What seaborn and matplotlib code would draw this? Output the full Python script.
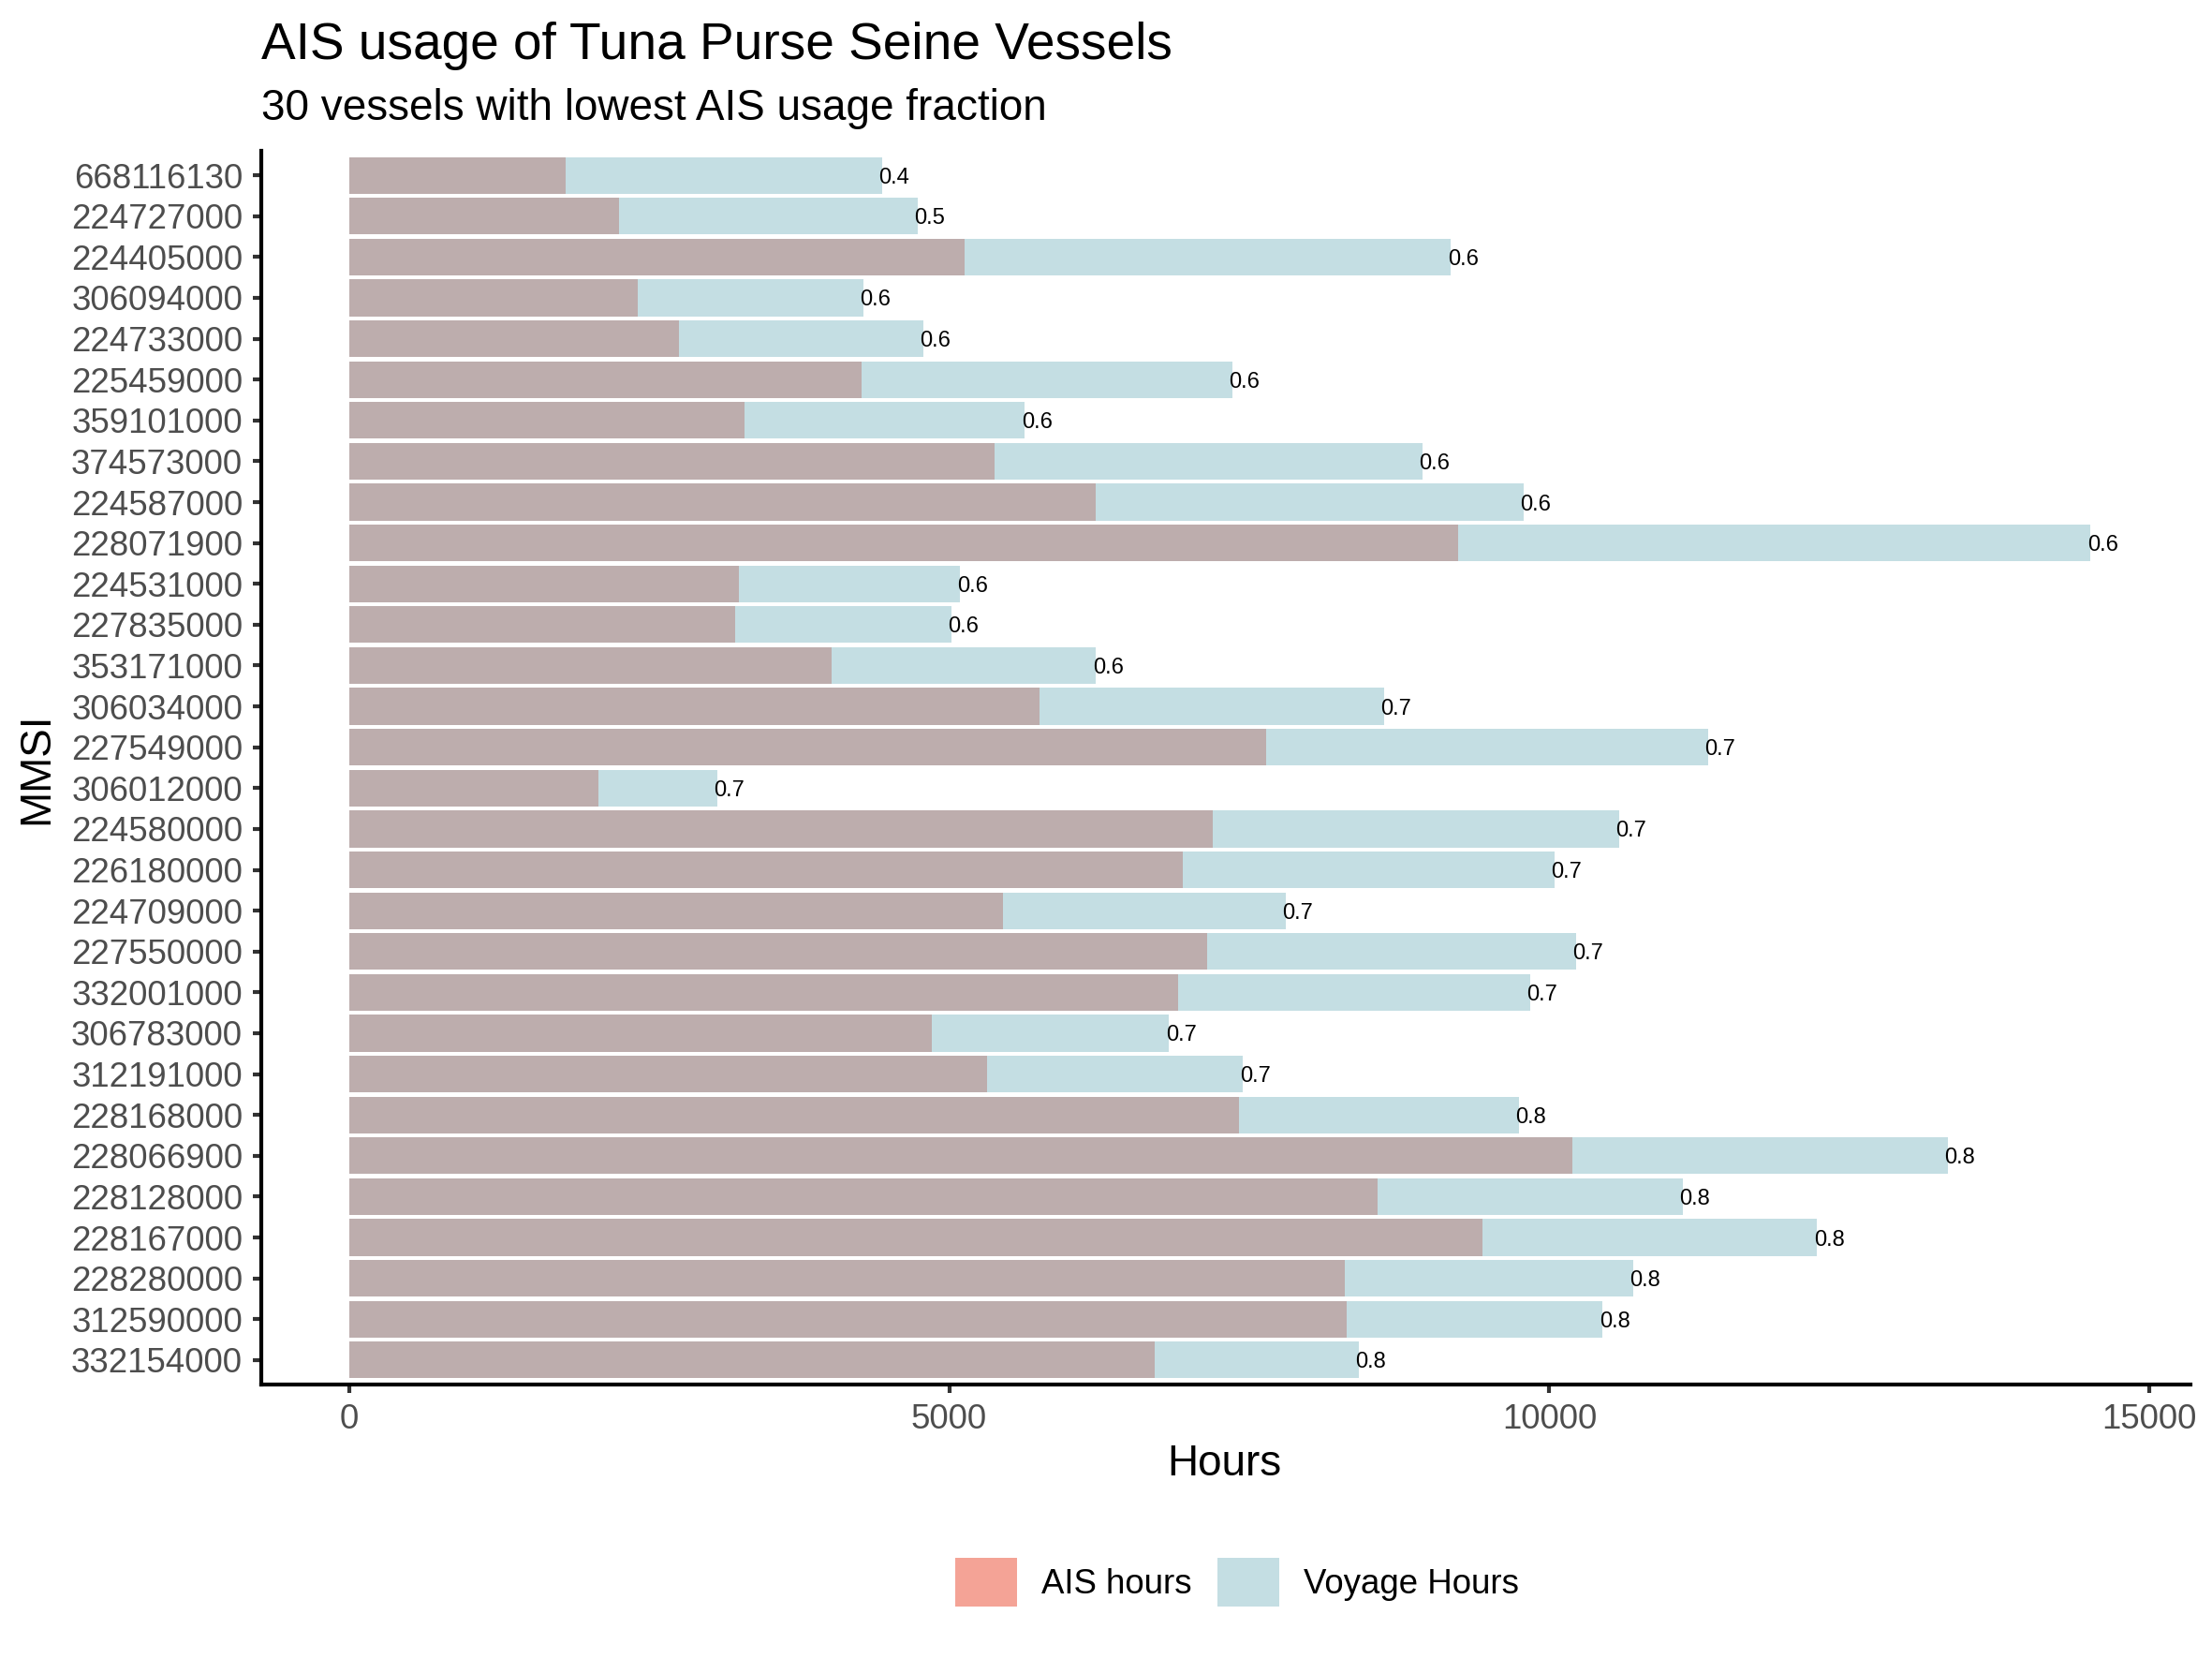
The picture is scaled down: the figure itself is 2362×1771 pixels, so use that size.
import matplotlib
matplotlib.use('Agg')
import pandas as pd
import matplotlib.pyplot as plt
import seaborn as sns
from matplotlib.patches import Patch

# vessels, top to bottom as in the chart
mmsi = ['668116130', '224727000', '224405000', '306094000', '224733000',
        '225459000', '359101000', '374573000', '224587000', '228071900',
        '224531000', '227835000', '353171000', '306034000', '227549000',
        '306012000', '224580000', '226180000', '224709000', '227550000',
        '332001000', '306783000', '312191000', '228168000', '228066900',
        '228128000', '228167000', '228280000', '312590000', '332154000']

ais_hours = [1803, 2249, 5130, 2405, 2752, 4267, 3297, 5376, 6224, 9237,
             3248, 3215, 4019, 5750, 7638, 2078, 7194, 6947, 5447, 7147,
             6905, 4855, 5315, 7412, 10188, 8566, 9440, 8294, 8310, 6710]

voyage_hours = [4441, 4738, 9180, 4285, 4784, 7356, 5630, 8940, 9783, 14505,
                5093, 5018, 6224, 8621, 11319, 3066, 10578, 10040, 7802, 10219,
                9838, 6831, 7446, 9743, 13316, 11109, 12231, 10696, 10443, 8410]

frac_labels = ['0.4', '0.5', '0.6', '0.6', '0.6', '0.6', '0.6', '0.6', '0.6', '0.6',
               '0.6', '0.6', '0.6', '0.7', '0.7', '0.7', '0.7', '0.7', '0.7', '0.7',
               '0.7', '0.7', '0.7', '0.8', '0.8', '0.8', '0.8', '0.8', '0.8', '0.8']

legend_labels = ['AIS hours', 'Voyage Hours']

AIS_COL = '#BDADAD'
VOY_COL = '#C4DEE3'
AIS_KEY = '#F4A396'

df = pd.DataFrame({'mmsi': mmsi, 'ais': ais_hours, 'voyage': voyage_hours})

sns.set_style('ticks')
plt.rcParams['font.family'] = ['Liberation Sans', 'DejaVu Sans']
plt.rcParams['text.color'] = 'black'

W, H = 2362, 1771
fig = plt.figure(figsize=(W / 300, H / 300), dpi=300)
ax = fig.add_axes([279 / W, 1 - 1478 / H, (2339 - 279) / W, (1478 - 161) / H])

sns.barplot(data=df, x='voyage', y='mmsi', order=mmsi, orient='h', color=VOY_COL,
            saturation=1, width=0.9, errorbar=None, linewidth=0, ax=ax)
sns.barplot(data=df, x='ais', y='mmsi', order=mmsi, orient='h', color=AIS_COL,
            saturation=1, width=0.9, errorbar=None, linewidth=0, ax=ax)

for i, (v, lab) in enumerate(zip(voyage_hours, frac_labels)):
    ax.annotate(lab, (v, i), xytext=(-0.8, 0), textcoords='offset points',
                fontsize=5.7, ha='left', va='center_baseline', color='black')

ax.set_xlim(-730, 15340)
ax.set_ylim(len(mmsi) - 0.4, -0.6)
ax.set_xticks([0, 5000, 10000, 15000])

sns.despine(ax=ax)
for s in ['left', 'bottom']:
    ax.spines[s].set_linewidth(1.0)
    ax.spines[s].set_color('black')
ax.tick_params(axis='both', length=2.2, width=1.0, color='#333333',
               labelsize=8.8, labelcolor='#4D4D4D', pad=2.6)

ax.set_xlabel('Hours', fontsize=11, color='black')
ax.set_ylabel('MMSI', fontsize=11, color='black')
ax.xaxis.set_label_coords(1307 / W, 1 - 1575 / H, transform=fig.transFigure)
ax.xaxis.label.set_va('baseline')
ax.yaxis.set_label_coords(39 / W, 1 - 820 / H, transform=fig.transFigure)
ax.yaxis.label.set_va('center')

fig.text(279 / W, 1 - 63 / H, 'AIS usage of Tuna Purse Seine Vessels',
         fontsize=13.2, va='baseline', ha='left', color='black')
fig.text(279 / W, 1 - 128 / H, '30 vessels with lowest AIS usage fraction',
         fontsize=11, va='baseline', ha='left', color='black')

handles = [Patch(facecolor=AIS_KEY, edgecolor='none'),
           Patch(facecolor=VOY_COL, edgecolor='none')]
fig.legend(handles, legend_labels, loc='center', bbox_to_anchor=(1321 / W, 1 - 1689 / H),
           ncol=2, frameon=False, fontsize=8.8, handlelength=1.8, handleheight=1.8,
           handletextpad=0.71, columnspacing=0.74, borderpad=0)

fig.savefig('out.png', dpi=300)
